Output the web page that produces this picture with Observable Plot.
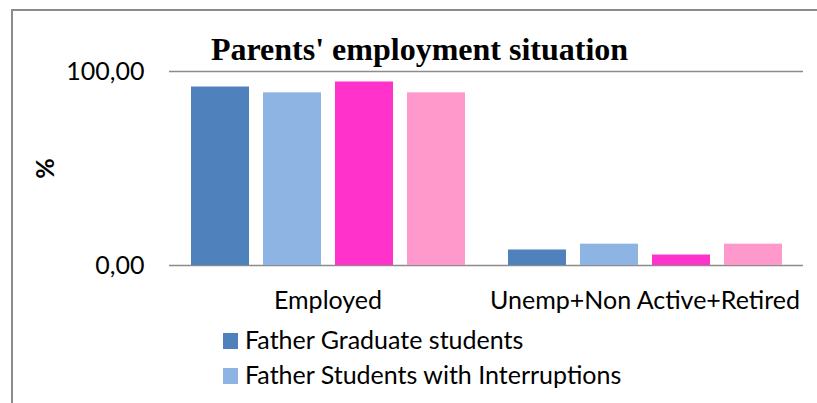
<!DOCTYPE html>
<html>
<head>
<meta charset="utf-8">
<script src="https://cdn.jsdelivr.net/npm/d3@7"></script>
<script src="https://cdn.jsdelivr.net/npm/@observablehq/plot@0.6"></script>
<style>
  html, body { margin: 0; padding: 0; background: #fff; width: 817px; height: 403px; overflow: hidden; }
  #frame { position: absolute; left: 11px; top: 9px; width: 900px; height: 500px; border: 2px solid #8c8c8c; box-sizing: border-box; }
  #chart { position: absolute; left: 0; top: 0; }
  #title { position: absolute; left: 0; width: 839px; top: 33px; text-align: center; font: bold 32px "Liberation Serif", serif; line-height: 32px; color: #000; white-space: nowrap; }
  .lrow { position: absolute; left: 223px; height: 25px; font: 25px Lato, sans-serif; line-height: 25px; color: #000; white-space: nowrap; }
  .lrow .sw { position: absolute; left: 0; width: 15px; height: 16px; }
  .lrow .tx { position: absolute; left: 22px; top: 0; }
</style>
</head>
<body>
<div id="frame"></div>
<div id="chart"></div>
<div id="title"></div>
<div id="legend"></div>
<script>
const titleText = "Parents' employment situation";
const categories = ["Employed", "Unemp+Non Active+Retired"];
const series = [
  "Father Graduate students",
  "Father Students with Interruptions",
  "Mother Graduate students",
  "Mother Students with Interruptions"
];
const colors = ["#4F81BD", "#8EB4E3", "#FF33CC", "#FF99CC"];
const employedValues = [92.0, 89.0, 94.6, 89.0];
const unempValues = [8.0, 11.0, 5.4, 11.0];
const yTicks = [0, 100];
const yLabel = "%";
const legendShown = series.slice(0, 2);

const valuesByCategory = [employedValues, unempValues];
const data = categories.flatMap((c, i) =>
  series.map((s, j) => ({category: c, series: s, value: valuesByCategory[i][j]}))
);

const fmt = d => d.toFixed(2).replace(".", ",");

const chart = Plot.plot({
  width: 817,
  height: 320,
  marginLeft: 169,
  marginRight: 14,
  marginTop: 71,
  marginBottom: 55,
  style: {fontFamily: "Lato, sans-serif", fontSize: "25px", color: "#000", background: "transparent", overflow: "visible"},
  fx: {domain: categories, padding: 0, label: null},
  x: {domain: series, paddingInner: 0.2, paddingOuter: 0.3, axis: null},
  y: {domain: [0, 100], axis: null},
  color: {domain: series, range: colors},
  marks: [
    Plot.ruleY(yTicks, {stroke: "#8c8c8c", strokeWidth: 1.5}),
    Plot.barY(data, {fx: "category", x: "series", y: "value", fill: "series"}),
    Plot.axisFx({anchor: "bottom", tickSize: 0, tickPadding: 26, label: null}),
    Plot.axisY({ticks: yTicks, tickSize: 0, tickPadding: 25, tickFormat: fmt, label: null}),
    Plot.axisY({ticks: [], label: yLabel, labelArrow: "none", labelAnchor: "center", labelOffset: 133, fontWeight: "bold"})
  ]
});
document.getElementById("chart").appendChild(chart);
document.getElementById("title").textContent = titleText;

const legend = document.getElementById("legend");
legendShown.forEach((s, i) => {
  const row = document.createElement("div");
  row.className = "lrow";
  row.style.top = (327 + i * 35) + "px";
  const sw = document.createElement("div");
  sw.className = "sw";
  sw.style.background = colors[series.indexOf(s)];
  sw.style.top = "6px";
  const tx = document.createElement("span");
  tx.className = "tx";
  tx.textContent = s;
  row.appendChild(sw);
  row.appendChild(tx);
  legend.appendChild(row);
});
</script>
</body>
</html>
